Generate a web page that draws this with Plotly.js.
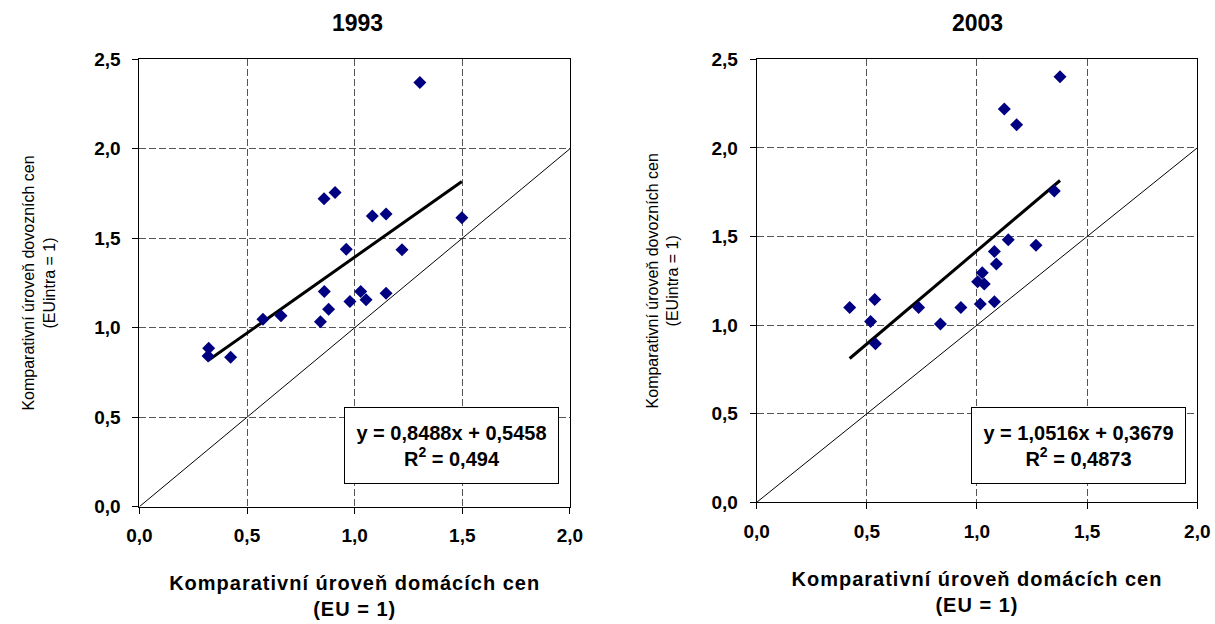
<!DOCTYPE html>
<html>
<head>
<meta charset="utf-8">
<script src="https://cdn.plot.ly/plotly-3.0.1.min.js"></script>
<style>
html,body{margin:0;padding:0;background:#fff;}
#chart{width:1215px;height:624px;}
text.xtitle, text.x2title{letter-spacing:1px;}
</style>
</head>
<body>
<div id="chart"></div>
<script>
// ---- Data: 1993 ----
const x1993 = [1.303, 0.858, 0.909, 1.082, 1.146, 1.498, 0.961, 1.220, 0.859, 1.028,
               1.053, 0.978, 1.146, 0.879, 0.841, 0.574, 0.658, 0.322, 0.319, 0.424];
const y1993 = [2.370, 1.721, 1.755, 1.624, 1.636, 1.615, 1.438, 1.436, 1.202, 1.203,
               1.157, 1.146, 1.192, 1.103, 1.034, 1.047, 1.067, 0.885, 0.842, 0.835];
const slope1993 = 0.8488, intercept1993 = 0.5458;
const eq1993 = "y = 0,8488x + 0,5458<br>R<sup>2</sup> = 0,494";

// ---- Data: 2003 ----
const x2003 = [1.377, 1.124, 1.180, 1.351, 1.142, 1.268, 1.079, 1.088, 1.024, 1.003,
               1.033, 1.015, 1.079, 0.927, 0.735, 0.834, 0.422, 0.536, 0.517, 0.539];
const y2003 = [2.402, 2.220, 2.131, 1.757, 1.482, 1.450, 1.416, 1.345, 1.296, 1.245,
               1.232, 1.119, 1.132, 1.099, 1.099, 1.006, 1.099, 1.144, 1.021, 0.895];
const slope2003 = 1.0516, intercept2003 = 0.3679;
const eq2003 = "y = 1,0516x + 0,3679<br>R<sup>2</sup> = 0,4873";

// ---- Reference diagonal and ticks ----
const diagonal = [0, 2];
const xTicks = [0, 0.5, 1.0, 1.5, 2.0];
const yTicks = [0, 0.5, 1.0, 1.5, 2.0, 2.5];
const titles = ["1993", "2003"];
const xTitle = "Komparativní úroveň domácích cen<br>(EU = 1)";
const yTitle = "Komparativní úroveň dovozních cen<br>(EUintra = 1)";

function trend(xs, a, b) {
  const lo = Math.min(...xs), hi = Math.max(...xs);
  return {x: [lo, hi], y: [a * lo + b, a * hi + b]};
}
const t1 = trend(x1993, slope1993, intercept1993);
const t2 = trend(x2003, slope2003, intercept2003);

const FONT = "'Liberation Sans', Arial, sans-serif";
const marker = {symbol: 'diamond', size: 10, color: '#000080', line: {width: 0}};

const traces = [
  {x: diagonal, y: diagonal, mode: 'lines', line: {color: '#000', width: 1}, xaxis: 'x', yaxis: 'y', hoverinfo: 'skip'},
  {x: t1.x, y: t1.y, mode: 'lines', line: {color: '#000', width: 3}, xaxis: 'x', yaxis: 'y'},
  {x: x1993, y: y1993, mode: 'markers', marker: marker, xaxis: 'x', yaxis: 'y'},
  {x: diagonal, y: diagonal, mode: 'lines', line: {color: '#000', width: 1}, xaxis: 'x2', yaxis: 'y2', hoverinfo: 'skip'},
  {x: t2.x, y: t2.y, mode: 'lines', line: {color: '#000', width: 3}, xaxis: 'x2', yaxis: 'y2'},
  {x: x2003, y: y2003, mode: 'markers', marker: marker, xaxis: 'x2', yaxis: 'y2'}
];

const boldFont = (s) => ({family: FONT, size: s, color: '#000', weight: 'bold'});

function xa(domain, anchor) {
  return {
    domain: domain, anchor: anchor, range: [0, 2], tickvals: xTicks, tickformat: '.1f',
    showgrid: true, gridcolor: '#555', griddash: '7px,3px', gridwidth: 1,
    zeroline: false, showline: true, linecolor: '#000', linewidth: 1, mirror: true,
    ticks: 'outside', ticklen: 6, tickcolor: '#000', tickwidth: 1,
    ticklabelstandoff: 6,
    tickfont: boldFont(19),
    title: {text: xTitle, font: boldFont(20), standoff: 30}
  };
}
function ya(domain, anchor, standoff) {
  return {
    domain: domain, anchor: anchor, range: [0, 2.5], tickvals: yTicks, tickformat: '.1f',
    showgrid: true, gridcolor: '#555', griddash: '7px,3px', gridwidth: 1,
    zeroline: false, showline: true, linecolor: '#000', linewidth: 1, mirror: true,
    ticks: 'outside', ticklen: 6, tickcolor: '#000', tickwidth: 1,
    ticklabelstandoff: 8,
    tickfont: boldFont(19),
    title: {text: yTitle, font: {family: FONT, size: 16, color: '#000'}, standoff: standoff}
  };
}

const layout = {
  width: 1215, height: 624,
  margin: {l: 0, r: 0, t: 0, b: 0},
  paper_bgcolor: '#fff', plot_bgcolor: '#fff',
  showlegend: false,
  separators: ', ',
  xaxis: xa([0.1147, 0.4691], 'y'),
  yaxis: ya([0.1880, 0.9050], 'x', 34),
  xaxis2: xa([0.6228, 0.9854], 'y2'),
  yaxis2: ya([0.1950, 0.9050], 'x2', 28),
  annotations: [
    {text: titles[0], xref: 'paper', yref: 'paper', x: 357/1215, y: 1 - 23/624, showarrow: false, font: boldFont(23), xanchor: 'center', yanchor: 'middle'},
    {text: titles[1], xref: 'paper', yref: 'paper', x: 977/1215, y: 1 - 23/624, showarrow: false, font: boldFont(23), xanchor: 'center', yanchor: 'middle'},
    {text: eq1993, xref: 'paper', yref: 'paper', x: 451.8/1215, y: 1 - 445.7/624, showarrow: false, font: boldFont(20), align: 'center',
     width: 213, height: 75, bordercolor: '#000', borderwidth: 1, borderpad: 0, bgcolor: '#fff', xanchor: 'center', yanchor: 'middle'},
    {text: eq2003, xref: 'paper', yref: 'paper', x: 1078.4/1215, y: 1 - 445.7/624, showarrow: false, font: boldFont(20), align: 'center',
     width: 213, height: 75, bordercolor: '#000', borderwidth: 1, borderpad: 0, bgcolor: '#fff', xanchor: 'center', yanchor: 'middle'}
  ]
};

Plotly.newPlot('chart', traces, layout, {displayModeBar: false, staticPlot: true});
</script>
</body>
</html>
